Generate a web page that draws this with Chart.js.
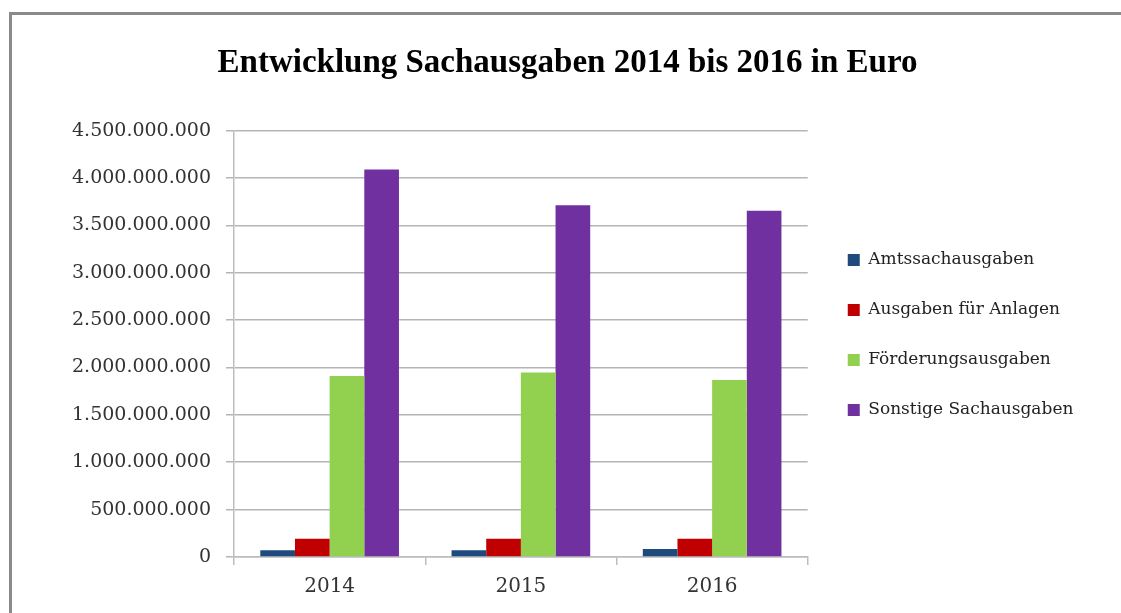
<!DOCTYPE html>
<html>
<head>
<meta charset="utf-8">
<script src="https://cdn.jsdelivr.net/npm/chart.js@4.4.0/dist/chart.umd.min.js"></script>
<style>
  html,body{margin:0;padding:0;background:#fff;overflow:hidden;}
  #frame{position:absolute;left:9px;top:12px;width:1120px;height:620px;
    border-left:3px solid #8a8a8a;border-top:3px solid #8a8a8a;box-sizing:border-box;}
  #wrap{position:absolute;left:12px;top:15px;width:1109px;height:598px;}
</style>
</head>
<body>
<div id="frame"></div>
<div id="wrap"><canvas id="c"></canvas></div>
<script>
const years=["2014","2015","2016"];
const amtssachausgaben=[70000000,70000000,84000000];
const anlagen=[193000000,193000000,193000000];
const foerderung=[1910000000,1948000000,1867000000];
const sonstige=[4090000000,3713000000,3653000000];
const yTicks=[0,500000000,1000000000,1500000000,2000000000,2500000000,3000000000,3500000000,4000000000,4500000000];

function fmt(v){
    return String(v).replace(/\B(?=(\d{3})+(?!\d))/g,".");
}

// nudge legend and title to where the original has them
const layoutShift={
    id:"layoutShift",
    afterLayout(chart){
        let lg=chart.legend;
        lg.left+=7; lg.right+=7;
        lg.top+=23; lg.bottom+=23;
        let t=chart.titleBlock;
        t.left+=25; t.right+=25;
    }
};

let ctx=document.getElementById("c");
let chart=new Chart(ctx,{
    type:"bar",
    data:{
        labels:years,
        datasets:[
            {label:"Amtssachausgaben",data:amtssachausgaben,backgroundColor:"#1f4a7e"},
            {label:"Ausgaben für Anlagen",data:anlagen,backgroundColor:"#c00000"},
            {label:"Förderungsausgaben",data:foerderung,backgroundColor:"#92d050"},
            {label:"Sonstige Sachausgaben",data:sonstige,backgroundColor:"#7030a0"}
        ]
    },
    plugins:[layoutShift],
    options:{
        responsive:true,
        maintainAspectRatio:false,
        animation:false,
        layout:{padding:{left:0,right:48,top:0,bottom:4}},
        datasets:{bar:{categoryPercentage:0.725,barPercentage:1}},
        plugins:{
            title:{display:true,text:"Entwicklung Sachausgaben 2014 bis 2016 in Euro",
                color:"#000",font:{family:"Liberation Serif",size:33,weight:"bold"},
                padding:{top:29,bottom:47}},
            legend:{position:"right",
                labels:{boxWidth:12,boxHeight:12,padding:33,color:"#222",
                    font:{family:"DejaVu Serif",size:17}}},
            tooltip:{enabled:false}
        },
        scales:{
            x:{
                grid:{offset:true,drawOnChartArea:false,color:"#bdbdbd",lineWidth:1.5,tickLength:8},
                border:{color:"#bdbdbd",width:1.5},
                ticks:{color:"#333",padding:10,font:{family:"DejaVu Serif",size:20}}
            },
            y:{
                min:0,max:4500000000,
                afterBuildTicks(scale){scale.ticks=yTicks.map(v=>({value:v}));},
                afterFit(scale){scale.width=222;},
                grid:{color:"#b5b5b5",lineWidth:1.5,tickLength:8},
                border:{color:"#bdbdbd",width:1.5},
                ticks:{color:"#333",padding:15,callback:(v)=>fmt(v),
                    font:{family:"DejaVu Serif",size:19}}
            }
        }
    }
});
</script>
</body>
</html>
